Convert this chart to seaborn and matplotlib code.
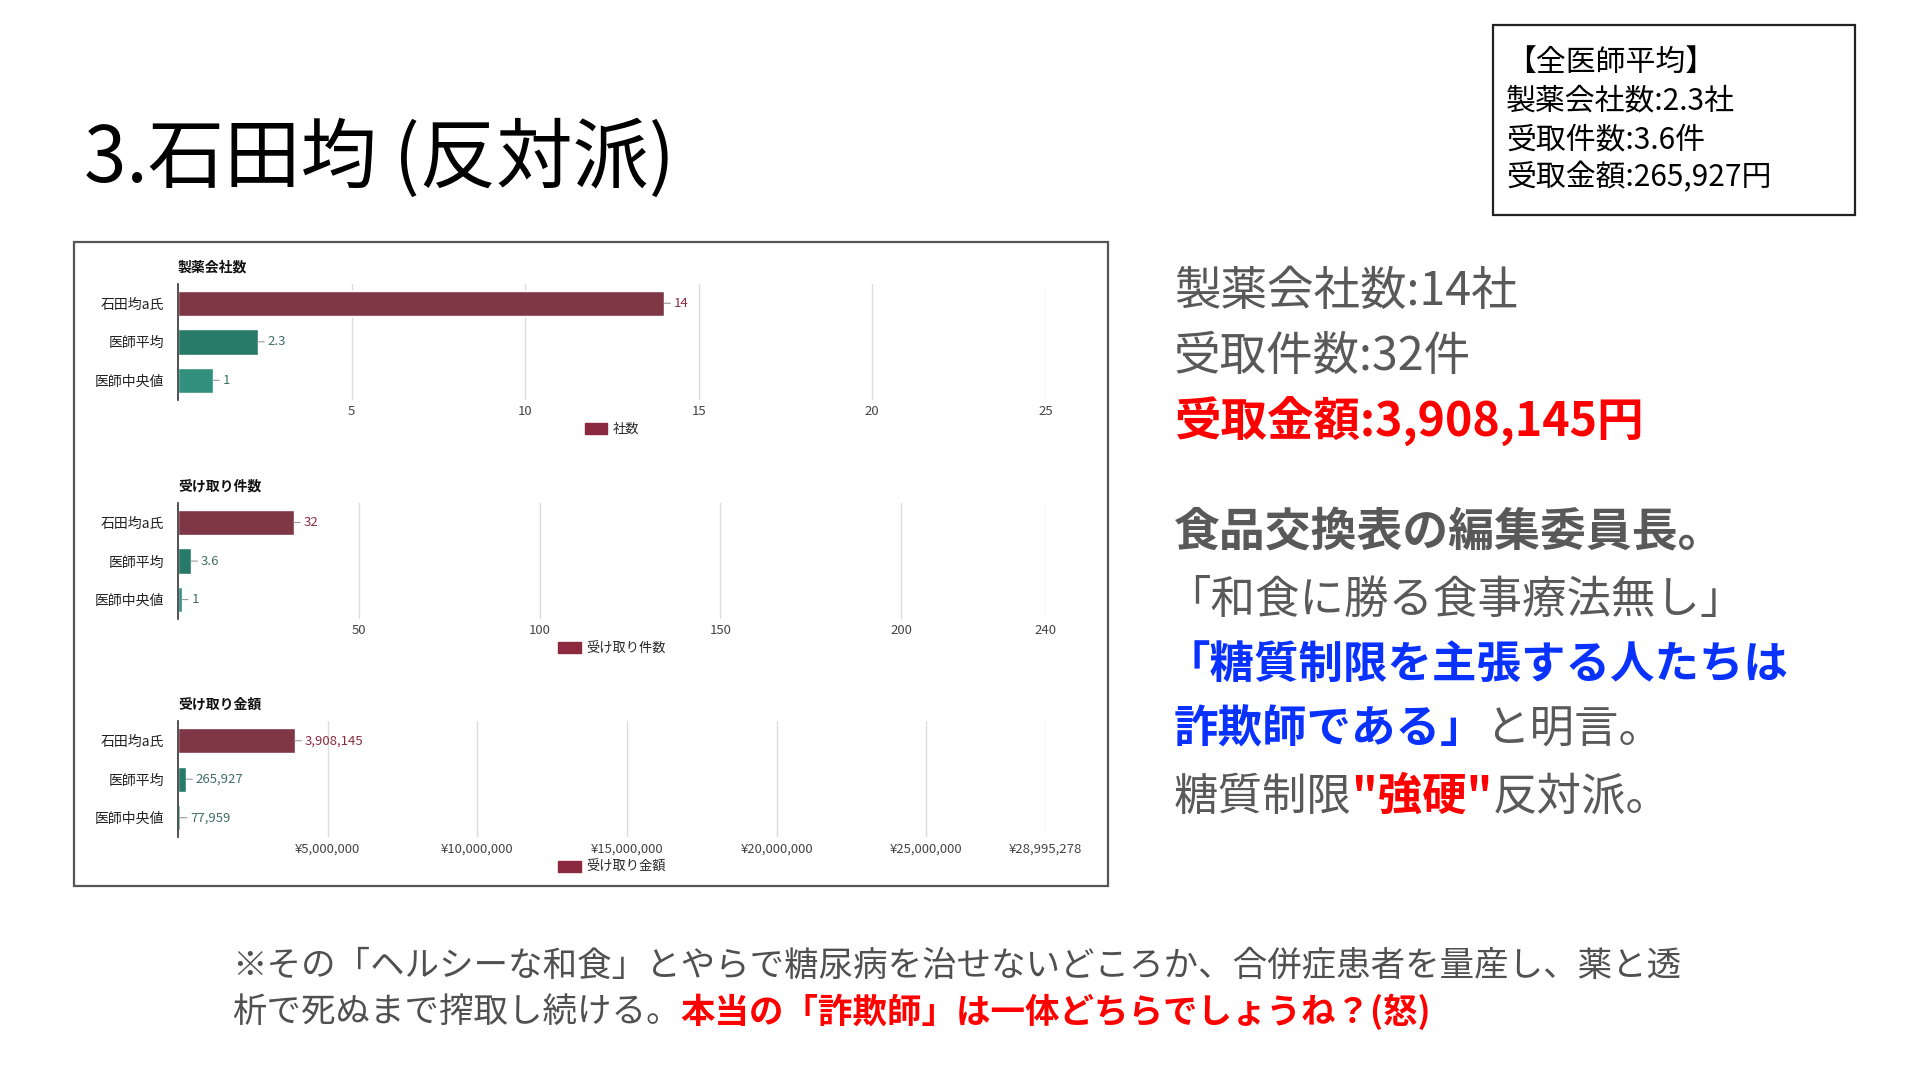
import seaborn as sns
import pandas as pd
import matplotlib.pyplot as plt
from matplotlib.patches import Rectangle, Patch

sns.set_theme(style='white')
plt.rcParams['font.family'] = ['Noto Sans CJK JP', 'DejaVu Sans']

# data
categories = ['石田均a氏', '医師平均', '医師中央値']
companies = [14, 2.3, 1]
company_labels = ['14', '2.3', '1']
cases = [32, 3.6, 1]
case_labels = ['32', '3.6', '1']
amounts = [3908145, 265927, 77959]
amount_labels = ['3,908,145', '265,927', '77,959']

company_ticks = [5, 10, 15, 20, 25]
case_ticks = [50, 100, 150, 200, 240]
amount_ticks = [5000000, 10000000, 15000000, 20000000, 25000000, 28995278]
amount_tick_labels = ['¥5,000,000', '¥10,000,000', '¥15,000,000', '¥20,000,000',
                      '¥25,000,000', '¥28,995,278']

bar_colors = ['#8b2a3e', '#1a8870', '#21a087']
label_colors = ['#8b2a3e', '#3f6e62', '#3f6e62']
gray = '#595959'

fig = plt.figure(figsize=(19.2, 10.8), dpi=100)

# background axes in pixel units for slide text
bg = fig.add_axes([0, 0, 1, 1])
bg.set_xlim(0, 1920)
bg.set_ylim(1080, 0)
bg.axis('off')

bg.add_patch(Rectangle((74, 242), 1034, 644, fill=False, edgecolor='#555555', lw=1.6))
bg.add_patch(Rectangle((1493, 25), 362, 190, fill=False, edgecolor='#222222', lw=1.6))


def panel(rect, values, labels, title, ticks, tick_labels, xmax, legend_label):
    ax = fig.add_axes(rect)
    df = pd.DataFrame({'cat': categories, 'val': values})
    sns.barplot(data=df, x='val', y='cat', hue='cat', palette=bar_colors,
                legend=False, width=0.66, orient='h', ax=ax)
    ax.set_xlim(0, xmax)
    ax.set_xticks(ticks)
    ax.set_xticklabels(tick_labels if tick_labels else [str(t) for t in ticks])
    ax.set_xlabel('')
    ax.set_ylabel('')
    ax.grid(axis='x', color='#dcdcdc', lw=1)
    ax.set_axisbelow(True)
    for s in ['top', 'right', 'bottom']:
        ax.spines[s].set_visible(False)
    ax.spines['left'].set_color('#333333')
    ax.spines['left'].set_linewidth(1.2)
    ax.tick_params(axis='x', length=0, pad=4, labelsize=9.5, labelcolor='#444444')
    ax.tick_params(axis='y', length=0, pad=10, labelsize=10, labelcolor='#222222')
    ax.set_title(title, loc='left', fontsize=10, fontweight='bold', pad=9, color='#111111')
    for i, (v, lab) in enumerate(zip(values, labels)):
        ax.annotate(lab, xy=(v, i), xytext=(7, 0), textcoords='offset points',
                    ha='left', va='center', fontsize=9.5, color=label_colors[i],
                    arrowprops=dict(arrowstyle='-', color='#999999', lw=0.8,
                                    shrinkA=0, shrinkB=0))
    ax.legend(handles=[Patch(color=bar_colors[0], label=legend_label)],
              loc='upper center', bbox_to_anchor=(0.5, -0.1), frameon=False,
              fontsize=9.5, handlelength=1.7, handleheight=0.9, handletextpad=0.4)
    return ax


panel([0.0927, 0.630, 0.452, 0.107], companies, company_labels, '製薬会社数',
      company_ticks, None, 25, '社数')
panel([0.0927, 0.427, 0.452, 0.107], cases, case_labels, '受け取り件数',
      case_ticks, None, 240, '受け取り件数')
panel([0.0927, 0.225, 0.452, 0.107], amounts, amount_labels, '受け取り金額',
      amount_ticks, amount_tick_labels, 28995278, '受け取り金額')


def line(x, y, segs, size):
    prev = None
    for txt, color, weight in segs:
        if prev is None:
            prev = bg.text(x, y, txt, fontsize=size, color=color,
                           fontweight=weight, ha='left', va='center')
        else:
            prev = bg.annotate(txt, xy=(1, 0), xycoords=prev, ha='left', va='bottom',
                               fontsize=size, color=color, fontweight=weight)


# title
bg.text(84, 160, '3.石田均 (反対派)', fontsize=55, color='black', ha='left', va='center')

# averages box
for yy, t in zip([62, 101, 140, 178],
                 ['【全医師平均】', '製薬会社数:2.3社', '受取件数:3.6件', '受取金額:265,927円']):
    bg.text(1506, yy, t, fontsize=21.5, color='black', ha='left', va='center')

# right side text
line(1174, 292, [('製薬会社数:14社', gray, 'normal')], 33.5)
line(1174, 357, [('受取件数:32件', gray, 'normal')], 33.5)
line(1174, 422, [('受取金額:3,908,145円', '#ff0000', 'bold')], 33.5)
line(1174, 532, [('食品交換表の編集委員長。', gray, 'bold')], 33)
line(1166, 600, [('「和食に勝る食事療法無し」', gray, 'normal')], 32)
line(1166, 665, [('「糖質制限を主張する人たちは', '#0a32ff', 'bold')], 32)
line(1174, 730, [('詐欺師である」', '#0a32ff', 'bold'), ('と明言。', gray, 'normal')], 32)
line(1174, 797, [('糖質制限', gray, 'normal'), ('"強硬"', '#ff0000', 'bold'),
                 ('反対派。', gray, 'normal')], 32)

# bottom note
line(232, 966, [('※その「ヘルシーな和食」とやらで糖尿病を治せないどころか、合併症患者を量産し、薬と透',
                 '#505050', 'normal')], 24.8)
line(232, 1012, [('析で死ぬまで搾取し続ける。', '#505050', 'normal'),
                 ('本当の「詐欺師」は一体どちらでしょうね？(怒)', '#ff0000', 'bold')], 24.8)

fig.savefig('out.png', dpi=100, facecolor='white')
